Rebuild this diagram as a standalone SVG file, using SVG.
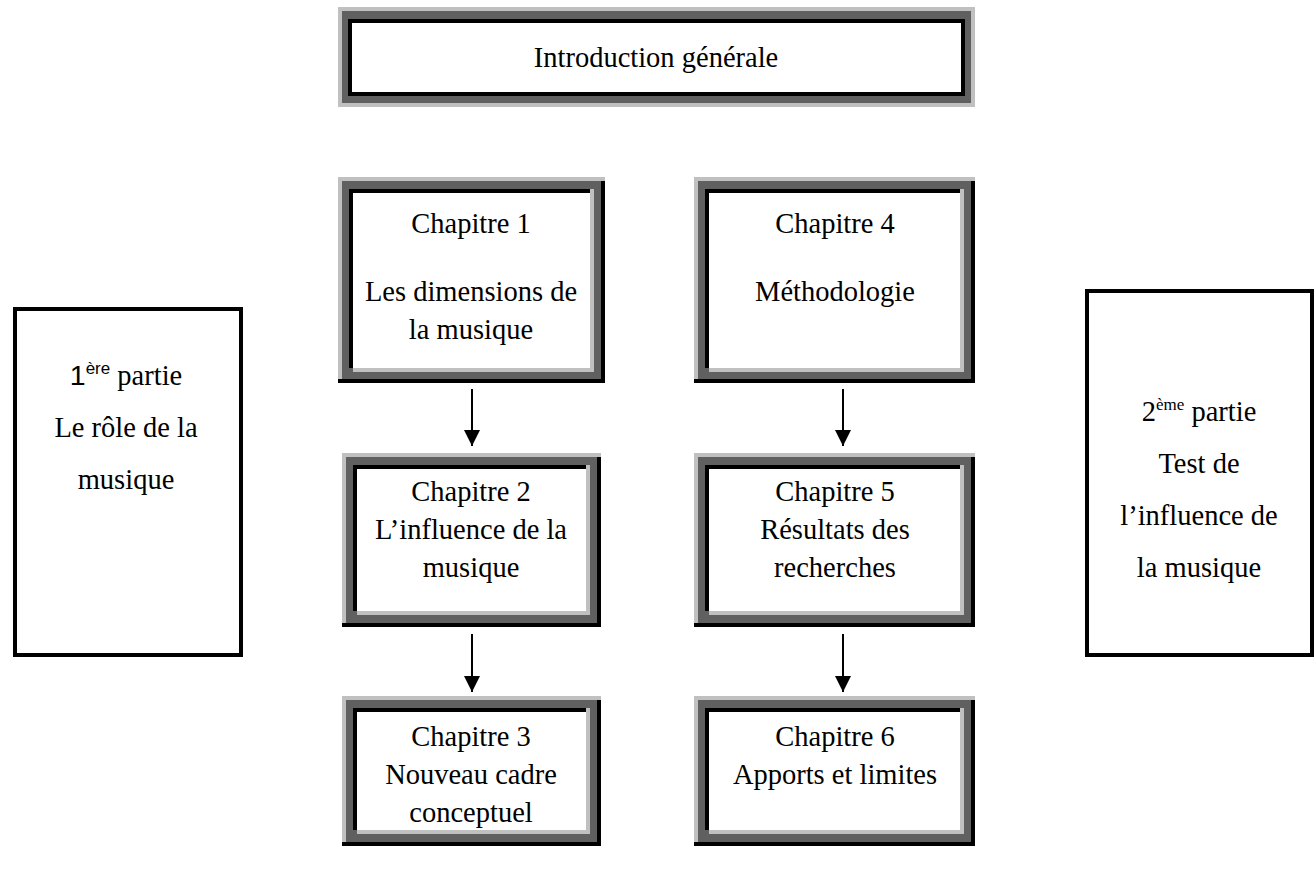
<svg xmlns="http://www.w3.org/2000/svg" width="1316" height="869" viewBox="0 0 1316 869">
<style>
.t{font-family:"Liberation Serif","Times New Roman",serif;font-size:28.5px;fill:#000;text-anchor:middle}
.s{font-family:"Liberation Sans",Arial,sans-serif}
.sup{font-size:17px}
.lt{fill:#c0c0c0}
.dk{fill:#606060}
.bk{fill:#000}
.wh{fill:#fff}
.plain{fill:#fff;stroke:#000;stroke-width:4}
.arr{stroke:#000;stroke-width:2;fill:none;marker-end:url(#ah)}
</style>
<defs>
<marker id="ah" viewBox="0 0 16 16" refX="16" refY="8" markerWidth="16" markerHeight="16" markerUnits="userSpaceOnUse" orient="auto">
<path d="M0,0 L16,8 L0,16 Z" fill="#000"/>
</marker>
</defs>
<rect width="1316" height="869" fill="#fff"/>

<g id="intro">
<rect class="lt" x="338" y="7" width="637" height="100"/>
<rect class="dk" x="342" y="11" width="629" height="92"/>
<rect class="bk" x="348" y="19" width="617" height="77"/>
<rect class="wh" x="352" y="23" width="609" height="69"/>
<text class="t" x="656" y="67">Introduction générale</text>
</g>

<g id="chap1">
<rect class="dk" x="338" y="177" width="267" height="206"/>
<rect class="lt" x="338" y="177" width="267" height="4"/>
<rect class="lt" x="338" y="177" width="4" height="202"/>
<rect class="bk" x="338" y="379" width="267" height="4"/>
<rect class="bk" x="601" y="181" width="4" height="202"/>
<rect class="bk" x="349" y="189" width="241" height="4"/>
<rect class="bk" x="349" y="189" width="4" height="179"/>
<rect class="lt" x="353" y="368" width="237" height="4"/>
<rect class="lt" x="590" y="189" width="4" height="183"/>
<rect class="wh" x="353" y="193" width="237" height="175"/>
<text class="t" x="471" y="233">Chapitre 1</text>
<text class="t" x="471" y="301">Les dimensions de</text>
<text class="t" x="471" y="339">la musique</text>
</g>

<g id="chap4">
<rect class="dk" x="694" y="177" width="281" height="206"/>
<rect class="lt" x="694" y="177" width="281" height="4"/>
<rect class="lt" x="694" y="177" width="4" height="202"/>
<rect class="bk" x="694" y="379" width="281" height="4"/>
<rect class="bk" x="971" y="181" width="4" height="202"/>
<rect class="bk" x="705" y="189" width="255" height="4"/>
<rect class="bk" x="705" y="189" width="4" height="179"/>
<rect class="lt" x="709" y="368" width="251" height="4"/>
<rect class="lt" x="960" y="189" width="4" height="183"/>
<rect class="wh" x="709" y="193" width="251" height="175"/>
<text class="t" x="835" y="233">Chapitre 4</text>
<text class="t" x="835" y="301">Méthodologie</text>
</g>

<g id="chap2">
<rect class="dk" x="342" y="453" width="259" height="174"/>
<rect class="lt" x="342" y="453" width="259" height="4"/>
<rect class="lt" x="342" y="453" width="4" height="170"/>
<rect class="bk" x="342" y="623" width="259" height="4"/>
<rect class="bk" x="597" y="457" width="4" height="170"/>
<rect class="bk" x="353" y="465" width="233" height="4"/>
<rect class="bk" x="353" y="465" width="4" height="146"/>
<rect class="lt" x="357" y="611" width="229" height="4"/>
<rect class="lt" x="586" y="465" width="4" height="150"/>
<rect class="wh" x="357" y="469" width="229" height="142"/>
<text class="t" x="471" y="501">Chapitre 2</text>
<text class="t" x="471" y="539">L’influence de la</text>
<text class="t" x="471" y="577">musique</text>
</g>

<g id="chap5">
<rect class="dk" x="694" y="453" width="281" height="174"/>
<rect class="lt" x="694" y="453" width="281" height="4"/>
<rect class="lt" x="694" y="453" width="4" height="170"/>
<rect class="bk" x="694" y="623" width="281" height="4"/>
<rect class="bk" x="971" y="457" width="4" height="170"/>
<rect class="bk" x="705" y="465" width="255" height="4"/>
<rect class="bk" x="705" y="465" width="4" height="146"/>
<rect class="lt" x="709" y="611" width="251" height="4"/>
<rect class="lt" x="960" y="465" width="4" height="150"/>
<rect class="wh" x="709" y="469" width="251" height="142"/>
<text class="t" x="835" y="501">Chapitre 5</text>
<text class="t" x="835" y="539">Résultats des</text>
<text class="t" x="835" y="577">recherches</text>
</g>

<g id="chap3">
<rect class="dk" x="342" y="696" width="259" height="150"/>
<rect class="lt" x="342" y="696" width="259" height="4"/>
<rect class="lt" x="342" y="696" width="4" height="146"/>
<rect class="bk" x="342" y="842" width="259" height="4"/>
<rect class="bk" x="597" y="700" width="4" height="146"/>
<rect class="bk" x="353" y="708" width="233" height="4"/>
<rect class="bk" x="353" y="708" width="4" height="122"/>
<rect class="lt" x="357" y="830" width="229" height="4"/>
<rect class="lt" x="586" y="708" width="4" height="126"/>
<rect class="wh" x="357" y="712" width="229" height="118"/>
<text class="t" x="471" y="746">Chapitre 3</text>
<text class="t" x="471" y="784">Nouveau cadre</text>
<text class="t" x="471" y="822">conceptuel</text>
</g>

<g id="chap6">
<rect class="dk" x="694" y="696" width="281" height="150"/>
<rect class="lt" x="694" y="696" width="281" height="4"/>
<rect class="lt" x="694" y="696" width="4" height="146"/>
<rect class="bk" x="694" y="842" width="281" height="4"/>
<rect class="bk" x="971" y="700" width="4" height="146"/>
<rect class="bk" x="705" y="708" width="255" height="4"/>
<rect class="bk" x="705" y="708" width="4" height="122"/>
<rect class="lt" x="709" y="830" width="251" height="4"/>
<rect class="lt" x="960" y="708" width="4" height="126"/>
<rect class="wh" x="709" y="712" width="251" height="118"/>
<text class="t" x="835" y="746">Chapitre 6</text>
<text class="t" x="835" y="784">Apports et limites</text>
</g>

<g id="part1">
<rect class="plain" x="15" y="309" width="226" height="346"/>
<text class="t" x="126" y="385"><tspan class="s">1</tspan><tspan class="s sup" dy="-11">ère</tspan><tspan dy="11"> partie</tspan></text>
<text class="t" x="126" y="437">Le rôle de la</text>
<text class="t" x="126" y="489">musique</text>
</g>

<g id="part2">
<rect class="plain" x="1087" y="291" width="225" height="364"/>
<text class="t" x="1199" y="421">2<tspan class="sup" dy="-11">ème</tspan><tspan dy="11"> partie</tspan></text>
<text class="t" x="1199" y="473">Test de</text>
<text class="t" x="1199" y="525">l’influence de</text>
<text class="t" x="1199" y="577">la musique</text>
</g>

<g id="connectors">
<line class="arr" x1="472" y1="389" x2="472" y2="446"/>
<line class="arr" x1="472" y1="634" x2="472" y2="692"/>
<line class="arr" x1="843" y1="389" x2="843" y2="446"/>
<line class="arr" x1="843" y1="634" x2="843" y2="692"/>
</g>
</svg>
